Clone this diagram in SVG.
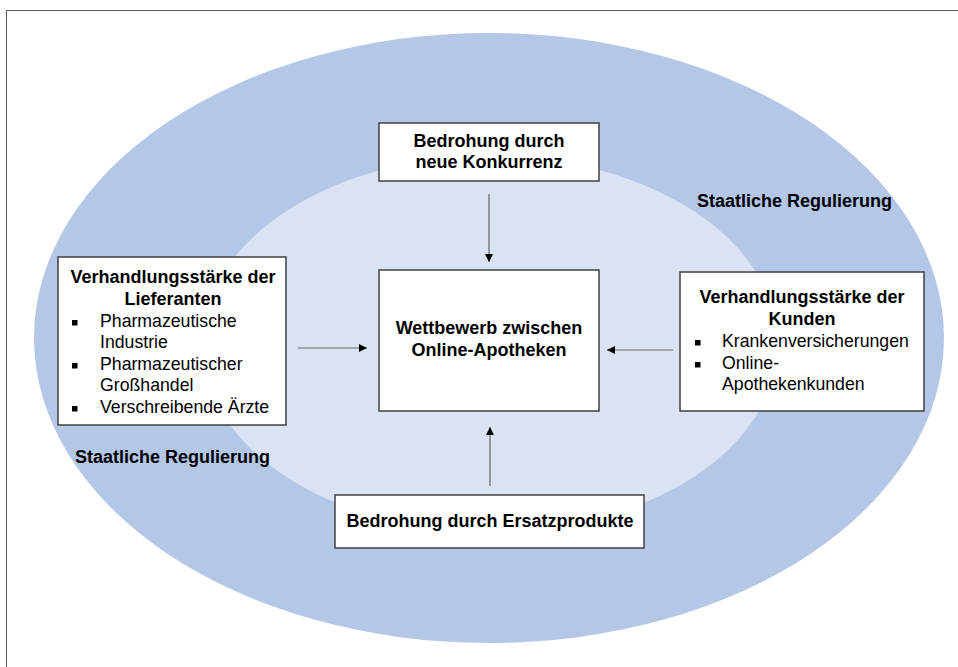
<svg xmlns="http://www.w3.org/2000/svg" width="958" height="667" viewBox="0 0 958 667">
<defs>
<style>
.box{fill:#fff;stroke:#404040;stroke-width:1.5}
.b{font-family:"Liberation Sans",Arial,sans-serif;font-weight:bold;font-size:18px;fill:#000}
.r{font-family:"Liberation Sans",Arial,sans-serif;font-size:17.7px;fill:#000}
.c{text-anchor:middle}
.con{stroke:#666;stroke-width:1.2;fill:none;marker-end:url(#ah)}
.bul{fill:#000}
</style>
<marker id="ah" viewBox="0 0 10 10" refX="10" refY="5" markerWidth="8" markerHeight="8" markerUnits="userSpaceOnUse" orient="auto">
<path d="M0,0 L10,5 L0,10 Z" fill="#000"/>
</marker>
</defs>
<rect x="0" y="0" width="958" height="667" fill="#fff"/>
<path d="M6.5,667 V10.5 H958" fill="none" stroke="#595959" stroke-width="1"/>
<g id="outer">
<ellipse cx="489" cy="338" rx="455" ry="305" fill="#B4C7E7"/>
</g>
<g id="inner">
<ellipse cx="490" cy="344" rx="288" ry="188" fill="#DAE3F3"/>
</g>
<g id="label-right"><text class="b" x="697" y="207">Staatliche Regulierung</text></g>
<g id="label-left"><text class="b" x="75" y="463">Staatliche Regulierung</text></g>
<g id="connectors">
<line class="con" x1="489" y1="194" x2="489" y2="262"/>
<line class="con" x1="490" y1="486" x2="490" y2="427"/>
<line class="con" x1="298" y1="348" x2="367" y2="348"/>
<line class="con" x1="673" y1="350" x2="607" y2="350"/>
</g>
<g id="top">
<rect class="box" x="379" y="123" width="220" height="58"/>
<text class="b c" x="489" y="147">Bedrohung durch</text>
<text class="b c" x="489" y="168">neue Konkurrenz</text>
</g>
<g id="center">
<rect class="box" x="379" y="270" width="220" height="141"/>
<text class="b c" x="489" y="334">Wettbewerb zwischen</text>
<text class="b c" x="489" y="356">Online-Apotheken</text>
</g>
<g id="bottom">
<rect class="box" x="335" y="495" width="309" height="53"/>
<text class="b c" x="490" y="527">Bedrohung durch Ersatzprodukte</text>
</g>
<g id="left">
<rect class="box" x="58" y="257" width="228" height="168"/>
<text class="b c" x="173" y="283">Verhandlungsstärke der</text>
<text class="b c" x="173" y="305">Lieferanten</text>
<rect class="bul" x="72" y="320" width="5.5" height="5.5"/>
<text class="r" x="100" y="327">Pharmazeutische</text>
<text class="r" x="100" y="348">Industrie</text>
<rect class="bul" x="72" y="363" width="5.5" height="5.5"/>
<text class="r" x="100" y="370">Pharmazeutischer</text>
<text class="r" x="100" y="391">Großhandel</text>
<rect class="bul" x="72" y="406" width="5.5" height="5.5"/>
<text class="r" x="100" y="413">Verschreibende Ärzte</text>
</g>
<g id="right">
<rect class="box" x="680" y="272" width="244" height="139"/>
<text class="b c" x="802" y="303">Verhandlungsstärke der</text>
<text class="b c" x="802" y="325">Kunden</text>
<rect class="bul" x="695" y="340" width="5.5" height="5.5"/>
<text class="r" x="722" y="347">Krankenversicherungen</text>
<rect class="bul" x="695" y="362" width="5.5" height="5.5"/>
<text class="r" x="722" y="369">Online-</text>
<text class="r" x="722" y="390">Apothekenkunden</text>
</g>
</svg>
